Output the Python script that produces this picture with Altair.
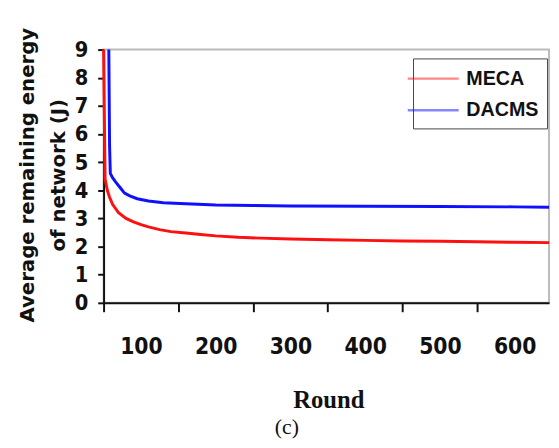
import altair as alt
import pandas as pd

# ---- data ----
series_names = ["MECA", "DACMS"]

meca_rounds = [50, 52, 55, 58, 62, 70, 80, 90, 100, 110, 125, 140, 160, 180, 200, 230,
               260, 300, 350, 400, 450, 500, 550, 600, 646]
meca_energy = [9.0, 4.4, 4.0, 3.75, 3.5, 3.2, 3.0, 2.88, 2.78, 2.7, 2.6, 2.53, 2.48, 2.43,
               2.38, 2.33, 2.3, 2.27, 2.24, 2.22, 2.2, 2.19, 2.17, 2.15, 2.14]

dacms_rounds = [57, 58, 59, 62, 66, 72, 78, 85, 95, 110, 130, 160, 200, 250, 300, 400,
                500, 600, 646]
dacms_energy = [9.0, 5.6, 4.6, 4.45, 4.3, 4.1, 3.9, 3.8, 3.7, 3.62, 3.56, 3.52, 3.48,
                3.46, 3.44, 3.43, 3.42, 3.41, 3.40]

x_tick_labels = [100, 200, 300, 400, 500, 600]
y_tick_values = [0, 1, 2, 3, 4, 5, 6, 7, 8, 9]

df = pd.concat([
    pd.DataFrame({"Round": meca_rounds, "Energy": meca_energy, "Protocol": "MECA"}),
    pd.DataFrame({"Round": dacms_rounds, "Energy": dacms_energy, "Protocol": "DACMS"}),
])

narrow = "'Liberation Sans Narrow', 'DejaVu Sans Condensed', 'Liberation Sans', sans-serif"

lines = alt.Chart(df).mark_line(strokeWidth=3, interpolate="linear").encode(
    x=alt.X("Round:Q",
            scale=alt.Scale(domain=[50, 646], nice=False, zero=False),
            axis=alt.Axis(values=x_tick_labels, title="Round", format="d",
                          tickOffset=-38, labelOffset=38,
                          tickSize=9, labelPadding=24,
                          labelFont=narrow, labelFontSize=23,
                          labelFontWeight="bold", labelColor="#111",
                          titleFont="Liberation Serif", titleFontSize=25,
                          titleFontWeight="bold", titleColor="#111",
                          titleX=228, titleY=98, titleBaseline="middle",
                          titleAlign="center")),
    y=alt.Y("Energy:Q",
            scale=alt.Scale(domain=[0, 9], nice=False),
            axis=alt.Axis(values=y_tick_values,
                          title=["Average remaining energy", "of network (J)"],
                          tickSize=6, labelPadding=10,
                          labelFont=narrow, labelFontSize=22,
                          labelFontWeight="bold", labelColor="#111",
                          titleFont="DejaVu Sans", titleFontSize=20,
                          titleFontWeight="bold", titleColor="#111",
                          titleLineHeight=31, titleAngle=270,
                          titleX=-77, titleY=127, titleAlign="center",
                          titleBaseline="middle")),
    color=alt.Color("Protocol:N",
                    scale=alt.Scale(domain=series_names, range=["#ff1010", "#1010ff"]),
                    sort=series_names,
                    legend=alt.Legend(title=None, orient="none", legendX=314, legendY=9,
                                      symbolType="M-2.35,0H2.35", symbolSize=484,
                                      symbolStrokeWidth=2.5, symbolOpacity=0.5,
                                      labelFont="Liberation Sans", labelFontSize=20,
                                      labelFontWeight="bold", labelColor="#111",
                                      labelOffset=21, rowPadding=9, padding=8,
                                      strokeColor="#444", fillColor="white")),
)

chart = alt.layer(lines).properties(
    width=452, height=257,
    autosize=alt.AutoSizeParams(type="none"),
    padding={"left": 97, "top": 39, "right": 2, "bottom": 136},
    title=alt.TitleParams(text="(c)", orient="bottom", font="Liberation Serif",
                          fontSize=22, fontWeight="normal", color="#111",
                          anchor="middle", dx=-40, offset=5),
).configure_view(stroke="#bbbbbb", strokeWidth=2).configure_axis(
    domainColor="#111", domainWidth=2, tickColor="#111", tickWidth=2, grid=False
)

chart.save("out.html", embed_options={"renderer": "svg", "actions": False})
